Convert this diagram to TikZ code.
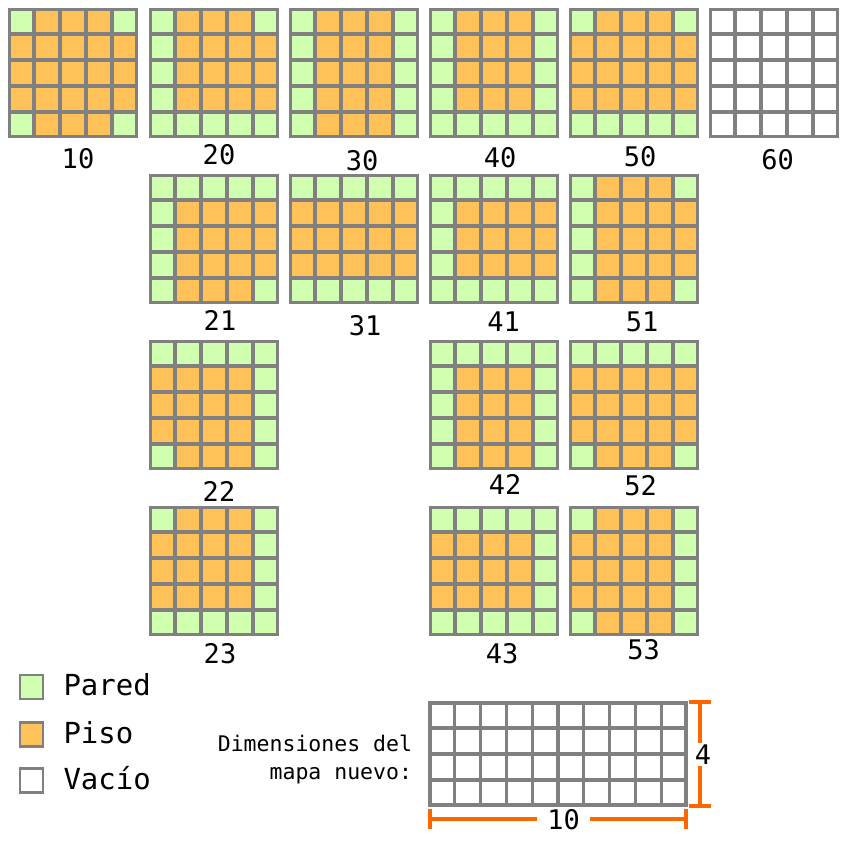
\documentclass[tikz,border=0pt]{standalone}
\usepackage{fontspec}
\setmonofont{DejaVu Sans Mono}
\usetikzlibrary{positioning}
\definecolor{Pared}{HTML}{D0FFB0}
\definecolor{Piso}{HTML}{FFC258}
\definecolor{Rejilla}{HTML}{808080}
\definecolor{Cota}{HTML}{FF6600}

\newcommand{\maptile}[6]{%
  \begin{scope}[shift={(#2,#3)}]
    \foreach \cel [count=\k from 0] in {#6} {
      \pgfmathtruncatemacro{\cx}{mod(\k,5)}
      \pgfmathtruncatemacro{\cy}{\k/5}
      \fill[\cel] (\cx*26,\cy*26) rectangle ++(26,26);
    }
    \foreach \i in {1,...,4} {
      \draw[rejilla] (\i*26,0) -- (\i*26,130);
      \draw[rejilla] (0,\i*26) -- (130,\i*26);
    }
  \end{scope}
  \node[tile] (t#1) at (#2+65,#3+65) {};
  \node[etiqueta, below=#5pt of t#1, xshift=#4pt] (l#1) {#1};
}

\begin{document}
\begin{tikzpicture}[x=1pt, y=-1pt]
    \tikzstyle{pa} = [fill=Pared]
    \tikzstyle{pi} = [fill=Piso]
    \tikzstyle{va} = [fill=white]
    \tikzstyle{rejilla} = [draw=Rejilla, line width=3.2pt]
    \tikzstyle{tile} = [rectangle, draw=Rejilla, line width=3.4pt, minimum size=127pt, inner sep=0pt]
    \tikzstyle{etiqueta} = [inner sep=0pt, font=\ttfamily\fontsize{27}{32}\selectfont]
    \tikzstyle{muestra} = [rectangle, draw=Rejilla, line width=2.6pt, minimum width=23pt, minimum height=24pt, inner sep=0pt]
    \tikzstyle{leyenda} = [inner sep=0pt, text height=17.4pt, text depth=0pt, font=\ttfamily\fontsize{29}{34}\selectfont]
    \tikzstyle{dimtexto} = [inner sep=0pt, align=right, font=\ttfamily\fontsize{21.5}{28}\selectfont]
    \tikzstyle{cota} = [inner sep=0pt, font=\ttfamily\fontsize{27}{32}\selectfont]
    \tikzstyle{cotalinea} = [draw=Cota, line width=3.2pt]

    \path[use as bounding box, fill=white] (0,0) rectangle (850,850);

    \maptile{10}{8}{8}{5}{9.6}{pa,pi,pi,pi,pa, pi,pi,pi,pi,pi, pi,pi,pi,pi,pi, pi,pi,pi,pi,pi, pa,pi,pi,pi,pa}
    \maptile{20}{149}{8}{5}{6.1}{pa,pi,pi,pi,pa, pa,pi,pi,pi,pi, pa,pi,pi,pi,pi, pa,pi,pi,pi,pi, pa,pa,pa,pa,pa}
    \maptile{30}{289}{8}{8}{11.6}{pa,pi,pi,pi,pa, pa,pi,pi,pi,pa, pa,pi,pi,pi,pa, pa,pi,pi,pi,pa, pa,pi,pi,pi,pa}
    \maptile{40}{429}{8}{6}{9.1}{pa,pi,pi,pi,pa, pa,pi,pi,pi,pa, pa,pi,pi,pi,pa, pa,pi,pi,pi,pa, pa,pa,pa,pa,pa}
    \maptile{50}{569}{8}{6}{8.1}{pa,pi,pi,pi,pa, pi,pi,pi,pi,pi, pi,pi,pi,pi,pi, pi,pi,pi,pi,pi, pa,pa,pa,pa,pa}
    \maptile{60}{709}{8}{3.5}{10.6}{va,va,va,va,va, va,va,va,va,va, va,va,va,va,va, va,va,va,va,va, va,va,va,va,va}

    \maptile{21}{149}{174}{6}{5.6}{pa,pa,pa,pa,pa, pa,pi,pi,pi,pi, pa,pi,pi,pi,pi, pa,pi,pi,pi,pi, pa,pi,pi,pi,pa}
    \maptile{31}{289}{174}{11}{11.1}{pa,pa,pa,pa,pa, pi,pi,pi,pi,pi, pi,pi,pi,pi,pi, pi,pi,pi,pi,pi, pa,pa,pa,pa,pa}
    \maptile{41}{429}{174}{9.5}{7.1}{pa,pa,pa,pa,pa, pa,pi,pi,pi,pi, pa,pi,pi,pi,pi, pa,pi,pi,pi,pi, pa,pa,pa,pa,pa}
    \maptile{51}{569}{174}{8}{7.1}{pa,pi,pi,pi,pa, pa,pi,pi,pi,pi, pa,pi,pi,pi,pi, pa,pi,pi,pi,pi, pa,pi,pi,pi,pa}

    \maptile{22}{149}{340}{5}{11.1}{pa,pa,pa,pa,pa, pi,pi,pi,pi,pa, pi,pi,pi,pi,pa, pi,pi,pi,pi,pa, pa,pi,pi,pi,pa}
    \maptile{42}{429}{340}{11}{4.1}{pa,pa,pa,pa,pa, pa,pi,pi,pi,pa, pa,pi,pi,pi,pa, pa,pi,pi,pi,pa, pa,pi,pi,pi,pa}
    \maptile{52}{569}{340}{6.5}{5.1}{pa,pa,pa,pa,pa, pi,pi,pi,pi,pi, pi,pi,pi,pi,pi, pi,pi,pi,pi,pi, pa,pi,pi,pi,pa}

    \maptile{23}{149}{506}{6}{6.6}{pa,pi,pi,pi,pa, pi,pi,pi,pi,pa, pi,pi,pi,pi,pa, pi,pi,pi,pi,pa, pa,pa,pa,pa,pa}
    \maptile{43}{429}{506}{8}{6.6}{pa,pa,pa,pa,pa, pi,pi,pi,pi,pa, pi,pi,pi,pi,pa, pi,pi,pi,pi,pa, pa,pa,pa,pa,pa}
    \maptile{53}{569}{506}{9.5}{3.1}{pa,pi,pi,pi,pa, pi,pi,pi,pi,pa, pi,pi,pi,pi,pa, pi,pi,pi,pi,pa, pa,pi,pi,pi,pa}

    \node[muestra, fill=Pared] (mPared) at (31.5,687) {};
    \node[leyenda, right=19pt of mPared] (tPared) {Pared};
    \node[muestra, fill=Piso] (mPiso) at (31.5,734.5) {};
    \node[leyenda, right=19pt of mPiso] (tPiso) {Piso};
    \node[muestra, fill=white] (mVacio) at (31.5,780.5) {};
    \node[leyenda, right=19pt of mVacio] (tVacio) {Vacío};

    \foreach \i in {1,...,9}
      \draw[rejilla] (429+\i*25.8,702) -- (429+\i*25.8,806);
    \foreach \j in {1,2,3}
      \draw[rejilla] (429,702+\j*26) -- (687,702+\j*26);
    \node[rectangle, draw=Rejilla, line width=3.6pt, minimum width=256pt, minimum height=102pt, inner sep=0pt] (mapa) at (558,754) {};
    \node[dimtexto, left=16pt of mapa, yshift=-5.4pt] (dimtxt) {Dimensiones del\\mapa nuevo:};

    \coordinate (vtop) at (700,702);
    \coordinate (vbot) at (700,806);
    \node[cota, inner ysep=1.5pt] (alto) at (703,754.5) {4};
    \draw[cotalinea] ([xshift=-11pt]vtop) -- ([xshift=11pt]vtop);
    \draw[cotalinea] ([xshift=-11pt]vbot) -- ([xshift=11pt]vbot);
    \draw[cotalinea] (vtop) -- (vtop |- alto.north);
    \draw[cotalinea] (vbot |- alto.south) -- (vbot);

    \coordinate (hizq) at (430,819);
    \coordinate (hder) at (686,819);
    \node[cota, inner xsep=10pt] (ancho) at (563.5,820) {10};
    \draw[cotalinea] ([yshift=10pt]hizq) -- ([yshift=-10pt]hizq);
    \draw[cotalinea] ([yshift=10pt]hder) -- ([yshift=-10pt]hder);
    \draw[cotalinea] (hizq) -- (hizq -| ancho.west);
    \draw[cotalinea] (hder -| ancho.east) -- (hder);
\end{tikzpicture}
\end{document}
